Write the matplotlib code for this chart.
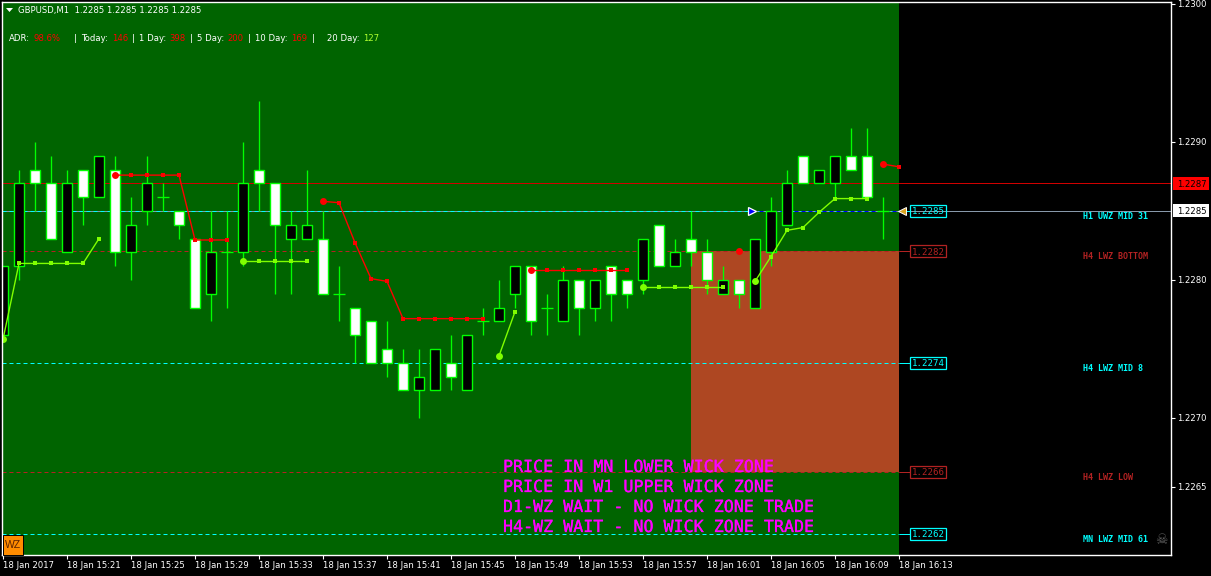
import matplotlib
matplotlib.use("Agg")
import matplotlib.pyplot as plt
import matplotlib.patheffects as pe
from matplotlib.patches import Rectangle, Polygon

W, H = 1211, 576

# candles, one per minute from 15:17
opens = [1.2276, 1.2281, 1.2288, 1.2287, 1.2282, 1.2288, 1.2286, 1.2288, 1.2282, 1.2285,
         1.2286, 1.2285, 1.2283, 1.2279, 1.2282, 1.2282, 1.2288, 1.2287, 1.2283, 1.2283,
         1.2283, 1.2279, 1.2278, 1.2277, 1.2275, 1.2274, 1.2272, 1.2272, 1.2274, 1.2272,
         1.2277, 1.2277, 1.2279, 1.2281, 1.2278, 1.2277, 1.2280, 1.2278, 1.2281, 1.2280,
         1.2280, 1.2284, 1.2281, 1.2283, 1.2282, 1.2279, 1.2280, 1.2278, 1.2282, 1.2284,
         1.2289, 1.2287, 1.2287, 1.2289, 1.2289, 1.2285]
highs = [1.2281, 1.2288, 1.2290, 1.2289, 1.2288, 1.2288, 1.2289, 1.2289, 1.2286, 1.2289,
         1.2287, 1.2285, 1.2283, 1.2285, 1.2285, 1.2290, 1.2293, 1.2287, 1.2285, 1.2288,
         1.2285, 1.2281, 1.2278, 1.2277, 1.2277, 1.2275, 1.2275, 1.2275, 1.2276, 1.2276,
         1.2278, 1.2280, 1.2281, 1.2281, 1.2279, 1.2281, 1.2280, 1.2280, 1.2281, 1.2280,
         1.2283, 1.2284, 1.2283, 1.2285, 1.2283, 1.2281, 1.2280, 1.2283, 1.2286, 1.2288,
         1.2289, 1.2288, 1.2289, 1.2291, 1.2291, 1.2286]
lows = [1.2276, 1.2280, 1.2285, 1.2283, 1.2282, 1.2284, 1.2286, 1.2281, 1.2280, 1.2284,
        1.2285, 1.2283, 1.2278, 1.2277, 1.2278, 1.2281, 1.2285, 1.2279, 1.2279, 1.2283,
        1.2279, 1.2277, 1.2274, 1.2274, 1.2273, 1.2272, 1.2270, 1.2272, 1.2272, 1.2272,
        1.2276, 1.2277, 1.2278, 1.2276, 1.2276, 1.2277, 1.2276, 1.2277, 1.2277, 1.2278,
        1.2279, 1.2281, 1.2281, 1.2281, 1.2279, 1.2279, 1.2278, 1.2278, 1.2281, 1.2284,
        1.2287, 1.2287, 1.2286, 1.2288, 1.2286, 1.2283]
closes = [1.2281, 1.2287, 1.2287, 1.2283, 1.2287, 1.2286, 1.2289, 1.2282, 1.2284, 1.2287,
          1.2286, 1.2284, 1.2278, 1.2282, 1.2282, 1.2287, 1.2287, 1.2284, 1.2284, 1.2284,
          1.2279, 1.2279, 1.2276, 1.2274, 1.2274, 1.2272, 1.2273, 1.2275, 1.2273, 1.2276,
          1.2277, 1.2278, 1.2281, 1.2277, 1.2278, 1.2280, 1.2278, 1.2280, 1.2279, 1.2279,
          1.2283, 1.2281, 1.2282, 1.2282, 1.2280, 1.2280, 1.2279, 1.2283, 1.2285, 1.2287,
          1.2287, 1.2288, 1.2289, 1.2288, 1.2286, 1.2285]

# indicator segments: (bar index, price)
red_x = [[7, 8, 9, 10, 11, 12, 13, 14],
         [20, 21, 22, 23, 24, 25, 26, 27, 28, 29, 30],
         [33, 34, 35, 36, 37, 38, 39],
         [46],
         [55, 56]]
red_y = [[1.22876, 1.22876, 1.22876, 1.22876, 1.22876, 1.22829, 1.22829, 1.22829],
         [1.22857, 1.22856, 1.22827, 1.22801, 1.22799, 1.22772, 1.22772, 1.22772, 1.22772, 1.22772, 1.22772],
         [1.22807, 1.22807, 1.22807, 1.22807, 1.22807, 1.22807, 1.22807],
         [1.22821],
         [1.22884, 1.22882]]
lime_x = [[0, 1, 2, 3, 4, 5, 6],
          [15, 16, 17, 18, 19],
          [31, 32],
          [40, 41, 42, 43, 44, 45],
          [47, 48, 49, 50, 51, 52, 53, 54]]
lime_y = [[1.22757, 1.22812, 1.22812, 1.22812, 1.22812, 1.22812, 1.22830],
          [1.22814, 1.22814, 1.22814, 1.22814, 1.22814],
          [1.22745, 1.22777],
          [1.22795, 1.22795, 1.22795, 1.22795, 1.22795, 1.22795],
          [1.22799, 1.22817, 1.22836, 1.22838, 1.22849, 1.22859, 1.22859, 1.22859]]

# price levels
bid = 1.2285
ask_line = 1.2287
level_prices = [1.2285, 1.22821, 1.22740, 1.22661, 1.22616]
level_colors = ["#00FFFF", "#B22222", "#00FFFF", "#B22222", "#00FFFF"]
level_names = ["H1 UWZ MID 31", "H4 LWZ BOTTOM", "H4 LWZ MID 8", "H4 LWZ LOW", "MN LWZ MID 61"]

y_ticks = [1.2300, 1.2290, 1.2280, 1.2270, 1.2265]
x_tick_bars = list(range(0, 57, 4))
x_tick_labels = ["18 Jan 2017", "18 Jan 15:21", "18 Jan 15:25", "18 Jan 15:29", "18 Jan 15:33",
                 "18 Jan 15:37", "18 Jan 15:41", "18 Jan 15:45", "18 Jan 15:49", "18 Jan 15:53",
                 "18 Jan 15:57", "18 Jan 16:01", "18 Jan 16:05", "18 Jan 16:09", "18 Jan 16:13"]

zone_text = ["PRICE IN MN LOWER WICK ZONE", "PRICE IN W1 UPPER WICK ZONE",
             "D1-WZ WAIT - NO WICK ZONE TRADE", "H4-WZ WAIT - NO WICK ZONE TRADE"]

adr_parts = [("ADR:", "white"), ("98.6%", "red"), ("|", "white"), ("Today:", "white"), ("146", "red"),
             ("|", "white"), ("1 Day:", "white"), ("398", "red"), ("|", "white"), ("5 Day:", "white"),
             ("200", "red"), ("|", "white"), ("10 Day:", "white"), ("169", "red"), ("|", "white"),
             ("20 Day:", "white"), ("127", "#ADFF2F")]
adr_x = [9, 33, 74, 81, 112, 132, 139, 169, 190, 197, 227, 248, 255, 291, 312, 327, 363]

GREEN = "#006400"
ZONE = "#AE4722"
CANDLE = "#00FF00"
SANS = "DejaVu Sans"
SMALL = 6.1
ONE_PX = 0.72

fig = plt.figure(figsize=(W / 100, H / 100), dpi=100, facecolor="black")
ax = fig.add_axes([2 / W, 1 - 555 / H, 1169 / W, 553 / H], facecolor="black")


def bar_x(px):
    return (px - 3) / 16


def price_y(py):
    return 1.23 - (py - 4) / 138000


def px_text(x, y, s, **kw):
    # text placed by image pixel position
    return fig.text(x / W, 1 - y / H, s, va="center", **kw)


def crisp(xs, ys, color, z, lw=ONE_PX, **kw):
    # thin straight line snapped to the pixel grid
    ax.plot(xs, ys, color=color, lw=lw, zorder=z, snap=True, solid_capstyle="butt", **kw)


ax.set_xlim(bar_x(2), bar_x(1171))
ax.set_ylim(price_y(555), price_y(2))

# backgrounds
last_bar = 56
ax.add_patch(Rectangle((bar_x(2), price_y(556)), last_bar - bar_x(2), price_y(2) - price_y(556),
                       fc=GREEN, ec="none", zorder=1))
ax.add_patch(Rectangle((43, level_prices[3]), last_bar - 43, level_prices[1] - level_prices[3],
                       fc=ZONE, ec="none", zorder=1.5))

# level lines and their price boxes
line_end = bar_x(910)
crisp([bar_x(2), bar_x(1171)], [ask_line, ask_line], "#D00000", 2)
crisp([bar_x(2), bar_x(1171)], [bid, bid], "#8899AA", 2)
for p, c in zip(level_prices, level_colors):
    crisp([bar_x(2), bar_x(899)], [p, p], c, 2.1, dashes=(4, 3))
    crisp([bar_x(899), line_end], [p, p], c, 2.1)
    ax.add_patch(Rectangle((line_end, p - 6 / 138000), 36 / 16, 12 / 138000,
                           fc="black" if p != bid else "none", ec=c, lw=0.9, zorder=5))
    ax.text(bar_x(928), p, f"{p:.4f}", color=c, family="DejaVu Sans Mono", size=6.6,
            ha="center", va="center_baseline", zorder=6)
crisp([bar_x(752), bar_x(899)], [bid, bid], "#0000FF", 2.2, dashes=(4, 3))

# candles
for i in range(len(opens)):
    crisp([i, i], [lows[i], highs[i]], CANDLE, 3, lw=0.95)
    if opens[i] == closes[i]:
        crisp([i - 0.36, i + 0.36], [opens[i], opens[i]], CANDLE, 3, lw=0.95)
        continue
    bottom = min(opens[i], closes[i])
    face = "white" if closes[i] < opens[i] else "black"
    ax.bar(i, abs(closes[i] - opens[i]), 0.64, bottom=bottom, color=face,
           edgecolor=CANDLE, linewidth=1.0, zorder=3.1)

# indicator lines, first point of each run is the big dot
for xs, ys in zip(red_x, red_y):
    ax.plot(xs, ys, color="#FF0000", lw=1.0, marker="s", ms=2.5, mew=0, zorder=4)
    ax.plot(xs[0], ys[0], color="#FF0000", marker="o", ms=5, mew=0, zorder=4)
for xs, ys in zip(lime_x, lime_y):
    ax.plot(xs, ys, color="#7FFF00", lw=1.0, marker="s", ms=2.5, mew=0, zorder=4)
    ax.plot(xs[0], ys[0], color="#7FFF00", marker="o", ms=5, mew=0, zorder=4)

# trade arrows on the bid line
ax.plot(bar_x(752), bid, marker=">", ms=5.5, mfc="#0000FF", mec="white", mew=0.9, zorder=5)
ax.plot(bar_x(902), bid, marker="<", ms=5.5, mfc="#DAA520", mec="white", mew=0.7, zorder=5)

# axes and ticks
for side in ["left", "right", "top", "bottom"]:
    ax.spines[side].set_color("white")
    ax.spines[side].set_linewidth(1.0)
    ax.spines[side].set_zorder(7)
ax.yaxis.tick_right()
ax.set_yticks(y_ticks, [f"{t:.4f}" for t in y_ticks])
ax.set_xticks(x_tick_bars, x_tick_labels)
ax.tick_params(axis="y", colors="white", length=3, width=0.8, pad=1.5, labelsize=SMALL, labelfontfamily=SANS)
ax.tick_params(axis="x", colors="white", length=3, width=0.8, pad=1.5, labelsize=SMALL, labelfontfamily=SANS)
for lab in ax.get_xticklabels():
    lab.set_ha("left")

# tags on the price axis
for p, bg in [(ask_line, "#FF0000"), (bid, "white")]:
    ax.add_patch(Rectangle((bar_x(1173), p - 6.5 / 138000), 36 / 16, 13 / 138000, fc=bg, ec="none",
                           clip_on=False, zorder=7.5))
    ax.text(bar_x(1177), p, f"{p:.4f}", fontsize=SMALL, family=SANS, color="black", va="center_baseline",
            ha="left", clip_on=False, zorder=8)

# header text
fig.add_artist(Polygon([[6 / W, 1 - 8 / H], [13 / W, 1 - 8 / H], [9.5 / W, 1 - 12 / H]], closed=True, fc="white", ec="none"))
px_text(18, 10.5, "GBPUSD,M1  1.2285 1.2285 1.2285 1.2285", color="white", size=SMALL, family=SANS)
for x, (s, c) in zip(adr_x, adr_parts):
    px_text(x, 38.5, s, color=c, size=SMALL, family=SANS)

# zone messages
for y, s in zip([467, 487, 507, 527], zone_text):
    t = px_text(503, y, s, color="#FF00FF", size=12, family="DejaVu Sans Mono")
    t.set_path_effects([pe.withStroke(linewidth=0.2, foreground="#FF00FF")])

# level names in the black margin
for p, s, c in zip(level_prices, level_names, level_colors):
    py = 4 + (1.23 - p) * 138000
    px_text(1083, py + 5.5, s, color=c, size=6, family="DejaVu Sans Mono", weight="bold")
px_text(1155, 540, "\u2620", color="#606060", size=10, family="DejaVu Sans")

# WZ button
fig.add_artist(Rectangle((3 / W, 1 - 555 / H), 20 / W, 20 / H, fc="#FF8C00", ec="black", lw=0.7,
                         transform=fig.transFigure))
px_text(13, 545, "WZ", color="#5A2000", size=7.5, family="Liberation Sans", ha="center")

fig.savefig("out.png", dpi=100, facecolor="black")
